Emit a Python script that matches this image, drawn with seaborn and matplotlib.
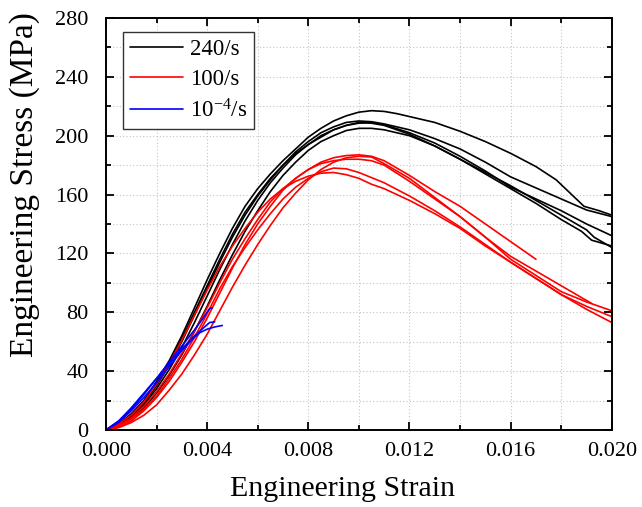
import numpy as np
import pandas as pd
import matplotlib
matplotlib.use("Agg")
import matplotlib.pyplot as plt
import seaborn as sns
from matplotlib.lines import Line2D
from matplotlib.ticker import MultipleLocator, FormatStrFormatter

# ---------------- data ----------------
rate_labels = ["240/s", "100/s", "10$^{-4}$/s"]
rate_colors = ["#000000", "#ff0000", "#0000ff"]

rise_a = [0, 0.0005, 0.001, 0.0015, 0.002, 0.0025, 0.003, 0.0035, 0.004, 0.0045,
          0.005, 0.0055, 0.006, 0.0065, 0.007, 0.0075, 0.008, 0.0085, 0.009,
          0.0095, 0.010]

# 240/s specimens
b1_strain = rise_a + [0.0105, 0.011, 0.0115, 0.012, 0.013, 0.014, 0.015, 0.016,
                      0.017, 0.0178, 0.0189, 0.0195, 0.020]
b1_stress = [0, 4, 11, 20, 33, 47, 64, 83, 102, 120, 137, 152, 164, 174, 183, 191,
             199, 205, 210, 213.5, 216, 217, 216.5, 215, 213, 209, 203, 196, 188,
             179, 170, 152, 149, 146]
b2_strain = rise_a + [0.0105, 0.011, 0.012, 0.013, 0.014, 0.015, 0.016, 0.017,
                      0.018, 0.019, 0.020]
b2_stress = [0, 3, 9, 18, 30, 44, 60, 78, 96, 114, 131, 146, 159, 170, 180, 189,
             196, 202, 206, 209, 210, 209.5, 208, 204, 198, 191, 182, 172, 164.5,
             157, 149.5, 145]
b3_strain = rise_a + [0.0105, 0.011, 0.012, 0.013, 0.014, 0.015, 0.016, 0.017,
                      0.018, 0.019, 0.020]
b3_stress = [0, 3, 9, 17, 28, 41, 56, 73, 91, 109, 126, 142, 156, 168, 178, 187,
             194, 200, 204, 207, 208.5, 209, 207.5, 202, 195, 186, 176, 165, 157,
             149, 140, 132]
b4_strain = rise_a + [0.0105, 0.011, 0.012, 0.013, 0.014, 0.015, 0.016, 0.017,
                      0.018, 0.0188, 0.0192, 0.020]
b4_stress = [0, 3.5, 10, 19, 32, 46, 62, 80, 98, 116, 133, 148, 160, 171, 180,
             188, 194, 199, 204, 207, 209, 208.5, 207, 201, 193, 184, 174, 164,
             154, 143, 135, 129, 125]
b5_strain = rise_a + [0.0105, 0.011, 0.012, 0.013, 0.014, 0.015, 0.016, 0.017,
                      0.018, 0.019, 0.0193, 0.0197, 0.020]
b5_stress = [0, 3, 8, 15, 25, 37, 51, 67, 84, 102, 119, 135, 149, 162, 173, 182,
             190, 196, 200, 203.5, 205, 205, 204, 200, 193, 184, 175, 166, 156,
             146, 136, 131, 127, 124]

# 100/s specimens
rise_b = rise_a + [0.0105]
r1_strain = rise_b + [0.011, 0.012, 0.013, 0.014, 0.015, 0.016, 0.017]
r1_stress = [0, 2, 6, 13, 22, 33, 46, 60, 76, 93, 110, 126, 140, 152, 163, 171,
             177, 182, 185, 186.5, 187, 186, 183, 173, 162, 152, 140, 128, 116]
r2_strain = rise_b + [0.011, 0.012, 0.013, 0.014, 0.015, 0.016, 0.017, 0.018,
                      0.019, 0.0192]
r2_stress = [0, 3, 8, 16, 26, 38, 52, 67, 83, 100, 116, 130, 143, 155, 164, 171,
             177, 181, 183, 184, 184, 183, 180, 169, 157, 145, 131, 118, 108, 98,
             88, 86]
r3_strain = rise_b + [0.011, 0.012, 0.013, 0.014, 0.015, 0.016, 0.017, 0.018,
                      0.019, 0.020]
r3_stress = [0, 1.5, 5, 10, 17, 27, 38, 51, 65, 81, 97, 112, 126, 139, 151, 161,
             170, 177, 182, 185, 186, 185.5, 181, 171, 158, 145, 131, 116, 105,
             94, 87, 81]
r4_strain = rise_b + [0.011, 0.012, 0.013, 0.014, 0.015, 0.016, 0.017, 0.018,
                      0.019, 0.020]
r4_stress = [0, 4, 10, 19, 31, 45, 61, 78, 95, 111, 125, 137, 148, 157, 164, 169,
             172.5, 174.5, 175, 173.5, 171, 167, 164, 156, 147, 137, 125, 114,
             103, 92, 84, 77]
r5_strain = rise_b + [0.011, 0.012, 0.013, 0.014, 0.015, 0.016, 0.017, 0.018,
                      0.019, 0.020]
r5_stress = [0, 3, 7, 14, 23, 35, 48, 63, 79, 96, 111, 124, 136, 147, 157, 165,
             171, 175.5, 178, 177.5, 175, 171.5, 168, 159, 149, 138, 126, 114,
             103, 92, 82, 73]

# 10^-4/s specimens
q1_strain = [0, 0.0005, 0.001, 0.0015, 0.002, 0.0025, 0.003, 0.0035, 0.0038,
             0.004, 0.0041, 0.0042]
q1_stress = [0, 6, 14, 24, 35, 46, 57, 68, 75, 80, 82.5, 83]
q2_strain = [0, 0.0005, 0.001, 0.0015, 0.002, 0.0025, 0.003, 0.0035, 0.0039,
             0.0041, 0.0043]
q2_stress = [0, 6, 15, 25, 35, 45, 55, 64, 70, 73, 73.5]
q3_strain = [0, 0.0005, 0.001, 0.0015, 0.002, 0.0025, 0.003, 0.0035, 0.0037,
             0.004, 0.0043, 0.0046]
q3_stress = [0, 5, 13, 22, 32, 43, 54, 63, 66, 68.5, 70, 71]

x_ticks = [0.000, 0.004, 0.008, 0.012, 0.016, 0.020]
y_ticks = [0, 40, 80, 120, 160, 200, 240, 280]

groups = [
    (rate_labels[0], [(b1_strain, b1_stress), (b2_strain, b2_stress),
                      (b3_strain, b3_stress), (b4_strain, b4_stress),
                      (b5_strain, b5_stress)]),
    (rate_labels[1], [(r1_strain, r1_stress), (r2_strain, r2_stress),
                      (r3_strain, r3_stress), (r4_strain, r4_stress),
                      (r5_strain, r5_stress)]),
    (rate_labels[2], [(q1_strain, q1_stress), (q2_strain, q2_stress),
                      (q3_strain, q3_stress)]),
]

rows = []
for rate, curves in groups:
    for i, (xs, ys) in enumerate(curves):
        assert len(xs) == len(ys), (rate, i)
        for k, (x, y) in enumerate(zip(xs, ys)):
            rows.append({"strain": x, "stress": y, "rate": rate,
                         "specimen": f"{rate}-{i}", "order": k})
df = pd.DataFrame(rows)

# ---------------- figure ----------------
sns.set_style("ticks")
plt.rcParams["font.family"] = ["Liberation Serif", "DejaVu Serif"]
plt.rcParams["mathtext.fontset"] = "custom"
plt.rcParams["mathtext.rm"] = "Liberation Serif"
plt.rcParams["mathtext.it"] = "Liberation Serif:italic"
for key in ["text.color", "axes.labelcolor", "xtick.color", "ytick.color",
            "axes.edgecolor"]:
    plt.rcParams[key] = "black"

fig = plt.figure(figsize=(6.42, 5.07), dpi=100)
ax = fig.add_axes([0.165, 0.152, 0.788, 0.8125])

for rate, color in zip(rate_labels, rate_colors):
    sub = df[df["rate"] == rate]
    sns.lineplot(data=sub, x="strain", y="stress", units="specimen",
                 estimator=None, sort=False, color=color, linewidth=1.2,
                 legend=False, ax=ax)

ax.set_xlim(0, 0.020)
ax.set_ylim(0, 280)
ax.set_xticks(x_ticks)
ax.set_yticks(y_ticks)
ax.xaxis.set_major_formatter(FormatStrFormatter("%.3f"))
ax.xaxis.set_minor_locator(MultipleLocator(0.002))
ax.yaxis.set_minor_locator(MultipleLocator(20))

ax.set_axisbelow(True)
ax.grid(which="both", linestyle=(0, (1, 2)), color="#c4c4c4", linewidth=0.8)

ax.tick_params(which="both", direction="in", top=True, right=True,
               width=1.3, colors="black")
ax.tick_params(which="major", length=6, labelsize=16)
ax.tick_params(axis="x", which="major", pad=9)
ax.tick_params(axis="y", which="major", pad=12.5)
ax.tick_params(which="minor", length=3.5)
for sp in ax.spines.values():
    sp.set_linewidth(1.4)
    sp.set_color("black")

ax.set_xlabel("Engineering Strain", fontsize=21.5)
ax.set_ylabel("Engineering Stress (MPa)", fontsize=24)
ax.xaxis.set_label_coords(0.468, -0.112)
ax.yaxis.set_label_coords(-0.130, 0.595)

handles = [Line2D([0], [0], color=c, linewidth=1.2) for c in rate_colors]
leg = ax.legend(handles, rate_labels, loc="upper left",
                bbox_to_anchor=(0.034, 0.966), borderaxespad=0,
                fontsize=16.5, frameon=True, fancybox=False, framealpha=1,
                edgecolor="#333333", handlelength=2.3, handletextpad=0.3,
                labelspacing=0.4, borderpad=0.3)
leg.get_frame().set_linewidth(1.0)

fig.savefig("out.png", dpi=100)
